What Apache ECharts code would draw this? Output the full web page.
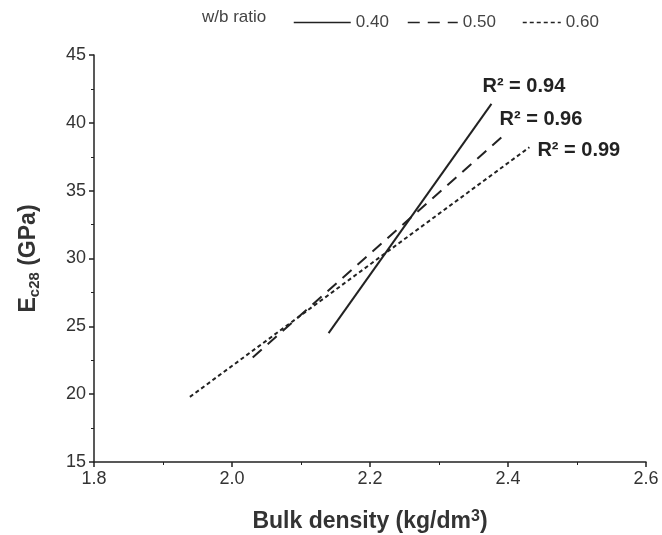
<!DOCTYPE html>
<html>
<head>
<meta charset="utf-8">
<script src="https://cdn.jsdelivr.net/npm/echarts@6/dist/echarts.min.js"></script>
<style>
html,body{margin:0;padding:0;background:#fff;}
#main{width:662px;height:535px;}
</style>
</head>
<body>
<div id="main"></div>
<script>
// Data
var seriesNames = ['0.40', '0.50', '0.60'];
var line040 = [[2.14, 24.5], [2.376, 41.4]];
var line050 = [[2.03, 22.7], [2.392, 39.0]];
var line060 = [[1.939, 19.8], [2.431, 38.2]];
var r2Labels = ['R² = 0.94', 'R² = 0.96', 'R² = 0.99'];
var xTicks = [1.8, 2.0, 2.2, 2.4, 2.6];
var yTicks = [15, 20, 25, 30, 35, 40, 45];

var chart = echarts.init(document.getElementById('main'));
var font = 'Arial, "Liberation Sans", sans-serif';
var labelOffsets = [[-14, -17], [-8, -17], [3, 3]];
var lineTypes = ['solid', [12, 8], [4, 3]];
var datasets = [line040, line050, line060];

var series = datasets.map(function (d, i) {
  return {
    name: seriesNames[i],
    type: 'line',
    data: d.map(function (p, j) {
      var item = { value: p };
      if (j === d.length - 1) {
        item.label = {
          show: true,
          position: 'right',
          offset: labelOffsets[i],
          formatter: r2Labels[i],
          fontFamily: font,
          fontSize: 20,
          fontWeight: 'bold',
          color: '#222'
        };
      }
      return item;
    }),
    showSymbol: true,
    symbol: 'circle',
    symbolSize: 0,
    silent: true,
    animation: false,
    lineStyle: { color: '#222', width: 2, type: lineTypes[i] },
    itemStyle: { color: '#222' }
  };
});

var legendLefts = [288, 402, 517];
var legendWidths = [57, 50, 38];
var legends = seriesNames.map(function (n, i) {
  return {
    left: legendLefts[i],
    top: 9,
    itemWidth: legendWidths[i],
    itemHeight: 12,
    data: [n],
    selectedMode: false,
    itemStyle: { opacity: 0 },
    lineStyle: { width: 1.5 },
    textStyle: { fontFamily: font, fontSize: 17, color: '#444' }
  };
});

chart.setOption({
  animation: false,
  backgroundColor: '#fff',
  grid: { left: 94, right: 16, top: 55, bottom: 73, containLabel: false, outerBoundsMode: 'none' },
  legend: legends,
  graphic: [{
    type: 'text',
    left: 202,
    top: 9,
    style: { text: 'w/b ratio', fontFamily: font, fontSize: 17, fill: '#444' }
  }],
  xAxis: {
    type: 'value',
    min: 1.8, max: 2.6, interval: 0.2,
    name: 'Bulk density (kg/dm{sup|3})',
    nameLocation: 'middle',
    nameGap: 47,
    nameTextStyle: {
      fontFamily: font, fontSize: 23, fontWeight: 'bold', color: '#333',
      rich: { sup: { fontFamily: font, fontSize: 16, fontWeight: 'bold', color: '#333', verticalAlign: 'top', padding: [0, 0, 10, 0] } }
    },
    axisLine: { show: true, lineStyle: { color: '#222', width: 1.5 } },
    axisTick: { show: true, length: 5, lineStyle: { color: '#222', width: 1.5 } },
    minorTick: { show: true, splitNumber: 2, length: 3, lineStyle: { color: '#222' } },
    splitLine: { show: false },
    axisLabel: {
      fontFamily: font, fontSize: 18, color: '#333', margin: 8,
      formatter: function (v) { return v.toFixed(1); }
    }
  },
  yAxis: {
    type: 'value',
    min: 15, max: 45, interval: 5,
    name: 'E{sub|c28} (GPa)',
    nameLocation: 'middle',
    nameGap: 52,
    nameRotate: 90,
    nameTextStyle: {
      fontFamily: font, fontSize: 23, fontWeight: 'bold', color: '#333',
      rich: { sub: { fontFamily: font, fontSize: 15, fontWeight: 'bold', color: '#333', padding: [12, 0, 0, 0] } }
    },
    axisLine: { show: true, lineStyle: { color: '#222', width: 1.5 } },
    axisTick: { show: true, length: 5, lineStyle: { color: '#222', width: 1.5 } },
    minorTick: { show: true, splitNumber: 2, length: 3, lineStyle: { color: '#222' } },
    splitLine: { show: false },
    axisLabel: { fontFamily: font, fontSize: 18, color: '#333', margin: 8 }
  },
  series: series
});
</script>
</body>
</html>
